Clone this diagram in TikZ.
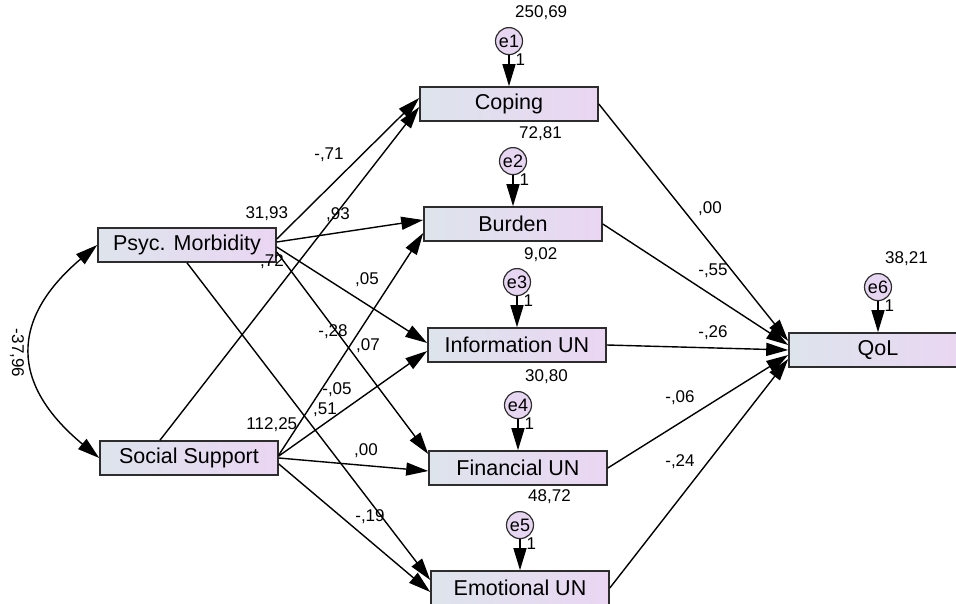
\documentclass[tikz,border=0pt]{standalone}
\usepackage{fontspec}
\setmainfont{Liberation Sans}
\usetikzlibrary{positioning,shapes,arrows.meta}

\definecolor{boxleft}{RGB}{221,228,236}
\definecolor{boxright}{RGB}{234,214,243}
\definecolor{errfill}{RGB}{231,214,241}
\definecolor{edgegray}{RGB}{45,45,45}

\begin{document}
\begin{tikzpicture}[
  x=1pt, y=-1pt,
  node distance=31pt,
  var/.style={draw=edgegray,line width=1.6pt,left color=boxleft,right color=boxright,
    minimum width=178pt,minimum height=34pt,inner sep=0pt,font=\fontsize{21.5}{24}\selectfont},
  err/.style={draw=edgegray,circle,line width=1.2pt,fill=errfill,minimum size=27pt,
    inner sep=0pt,font=\fontsize{18}{20}\selectfont},
  est/.style={inner sep=0pt,font=\fontsize{17}{19}\selectfont},
  one/.style={anchor=west,xshift=6pt,inner sep=0pt,font=\fontsize{17}{19}\selectfont},
  arr/.style={-{Triangle[length=22pt,width=13pt]},line width=1.4pt},
  dbl/.style={{Triangle[length=22pt,width=13pt]}-{Triangle[length=22pt,width=13pt]},line width=1.4pt}
]
\useasboundingbox (0,0) rectangle (956,604);

% observed variables
\node[var] (psyc) at (187,245) {Psyc. Morbidity};
\node[var] (social) at (189,458) {Social Support};
\node[var] (coping) at (509,104) {Coping};
\node[var] (burden) at (513,224) {Burden};
\node[var] (info) at (517,345) {Information UN};
\node[var] (financial) at (518,468) {Financial UN};
\node[var] (emotional) at (520,588) {Emotional UN};
\node[var] (qol) at (878,350) {QoL};

% residuals
\node[err,above=of coping] (e1) {e1};
\node[err,above=of burden] (e2) {e2};
\node[err,above=of info] (e3) {e3};
\node[err,above=of financial] (e4) {e4};
\node[err,above=of emotional] (e5) {e5};
\node[err,above=of qol] (e6) {e6};

\draw[arr] (e1) -- (coping) node[one,pos=0.15] (l1) {1};
\draw[arr] (e2) -- (burden) node[one,pos=0.15] (l2) {1};
\draw[arr] (e3) -- (info) node[one,pos=0.15] (l3) {1};
\draw[arr] (e4) -- (financial) node[one,pos=0.15] (l4) {1};
\draw[arr] (e5) -- (emotional) node[one,pos=0.15] (l5) {1};
\draw[arr] (e6) -- (qol) node[one,pos=0.15] (l6) {1};

% variances
\node[est,anchor=west] (v1) at ([xshift=6pt,yshift=28pt]e1.center) {250,69};
\node[est,anchor=west] (v2) at ([xshift=6pt,yshift=27pt]e2.center) {72,81};
\node[est,anchor=west] (v3) at ([xshift=7pt,yshift=27pt]e3.center) {9,02};
\node[est,anchor=west] (v4) at ([xshift=7pt,yshift=28pt]e4.center) {30,80};
\node[est,anchor=west] (v5) at ([xshift=8pt,yshift=28pt]e5.center) {48,72};
\node[est,anchor=west] (v6) at ([xshift=7pt,yshift=28pt]e6.center) {38,21};
\node[est] (vpsyc) at ([xshift=-10pt,yshift=14pt]psyc.north east) {31,93};
\node[est] (vsocial) at ([xshift=-7pt,yshift=16pt]social.north east) {112,25};

% covariance
\draw[dbl] (psyc.west) .. controls (10,319) and (10,384) .. (social.west);
\node[est,rotate=-90] (cov) at (17,353) {-37,96};

% paths from predictors
\draw[arr] ([yshift=6pt]psyc.east) -- ([yshift=6pt]coping.west);
\draw[arr] ([xshift=-29pt]social.north) -- ([yshift=-3pt]coping.west);
\draw[arr] ([yshift=3pt]psyc.east) -- ([yshift=4pt]burden.west);
\draw[arr] ([yshift=3pt]social.east) -- ([yshift=-9pt]burden.west);
\draw[arr] ([yshift=-2pt]psyc.east) -- ([yshift=2pt]info.west);
\draw[arr] ([yshift=2pt]social.east) -- ([yshift=-6pt]info.west);
\draw[arr] ([yshift=-7pt]psyc.east) -- ([yshift=14pt]financial.west);
\draw[arr] (social.east) -- ([yshift=-3pt]financial.west);
\draw[arr] (psyc.south) -- ([yshift=8pt]emotional.west);
\draw[arr] ([yshift=-6pt]social.east) -- ([yshift=-4pt]emotional.west);

% paths to QoL
\draw[arr] (coping.east) -- ([yshift=9pt]qol.west);
\draw[arr] (burden.east) -- ([yshift=5pt]qol.west);
\draw[arr] (info.east) -- (qol.west);
\draw[arr] (financial.east) -- ([yshift=-5pt]qol.west);
\draw[arr] (emotional.east) -- ([yshift=-9pt]qol.west);

% weights
\node[est] (w1) at (329,155) {-,71};
\node[est] (w2) at (338,215) {,93};
\node[est] (w3) at (272,262) {,72};
\node[est] (w4) at (367,280) {,05};
\node[est] (w5) at (333,332) {-,28};
\node[est] (w6) at (368,346) {,07};
\node[est] (w7) at (337,390) {-,05};
\node[est] (w8) at (325,410) {,51};
\node[est] (w9) at (366,451) {,00};
\node[est] (w10) at (370,517) {-,19};
\node[est] (w11) at (710,209) {,00};
\node[est] (w12) at (713,271) {-,55};
\node[est] (w13) at (713,333) {-,26};
\node[est] (w14) at (680,398) {-,06};
\node[est] (w15) at (680,462) {-,24};
\end{tikzpicture}
\end{document}
